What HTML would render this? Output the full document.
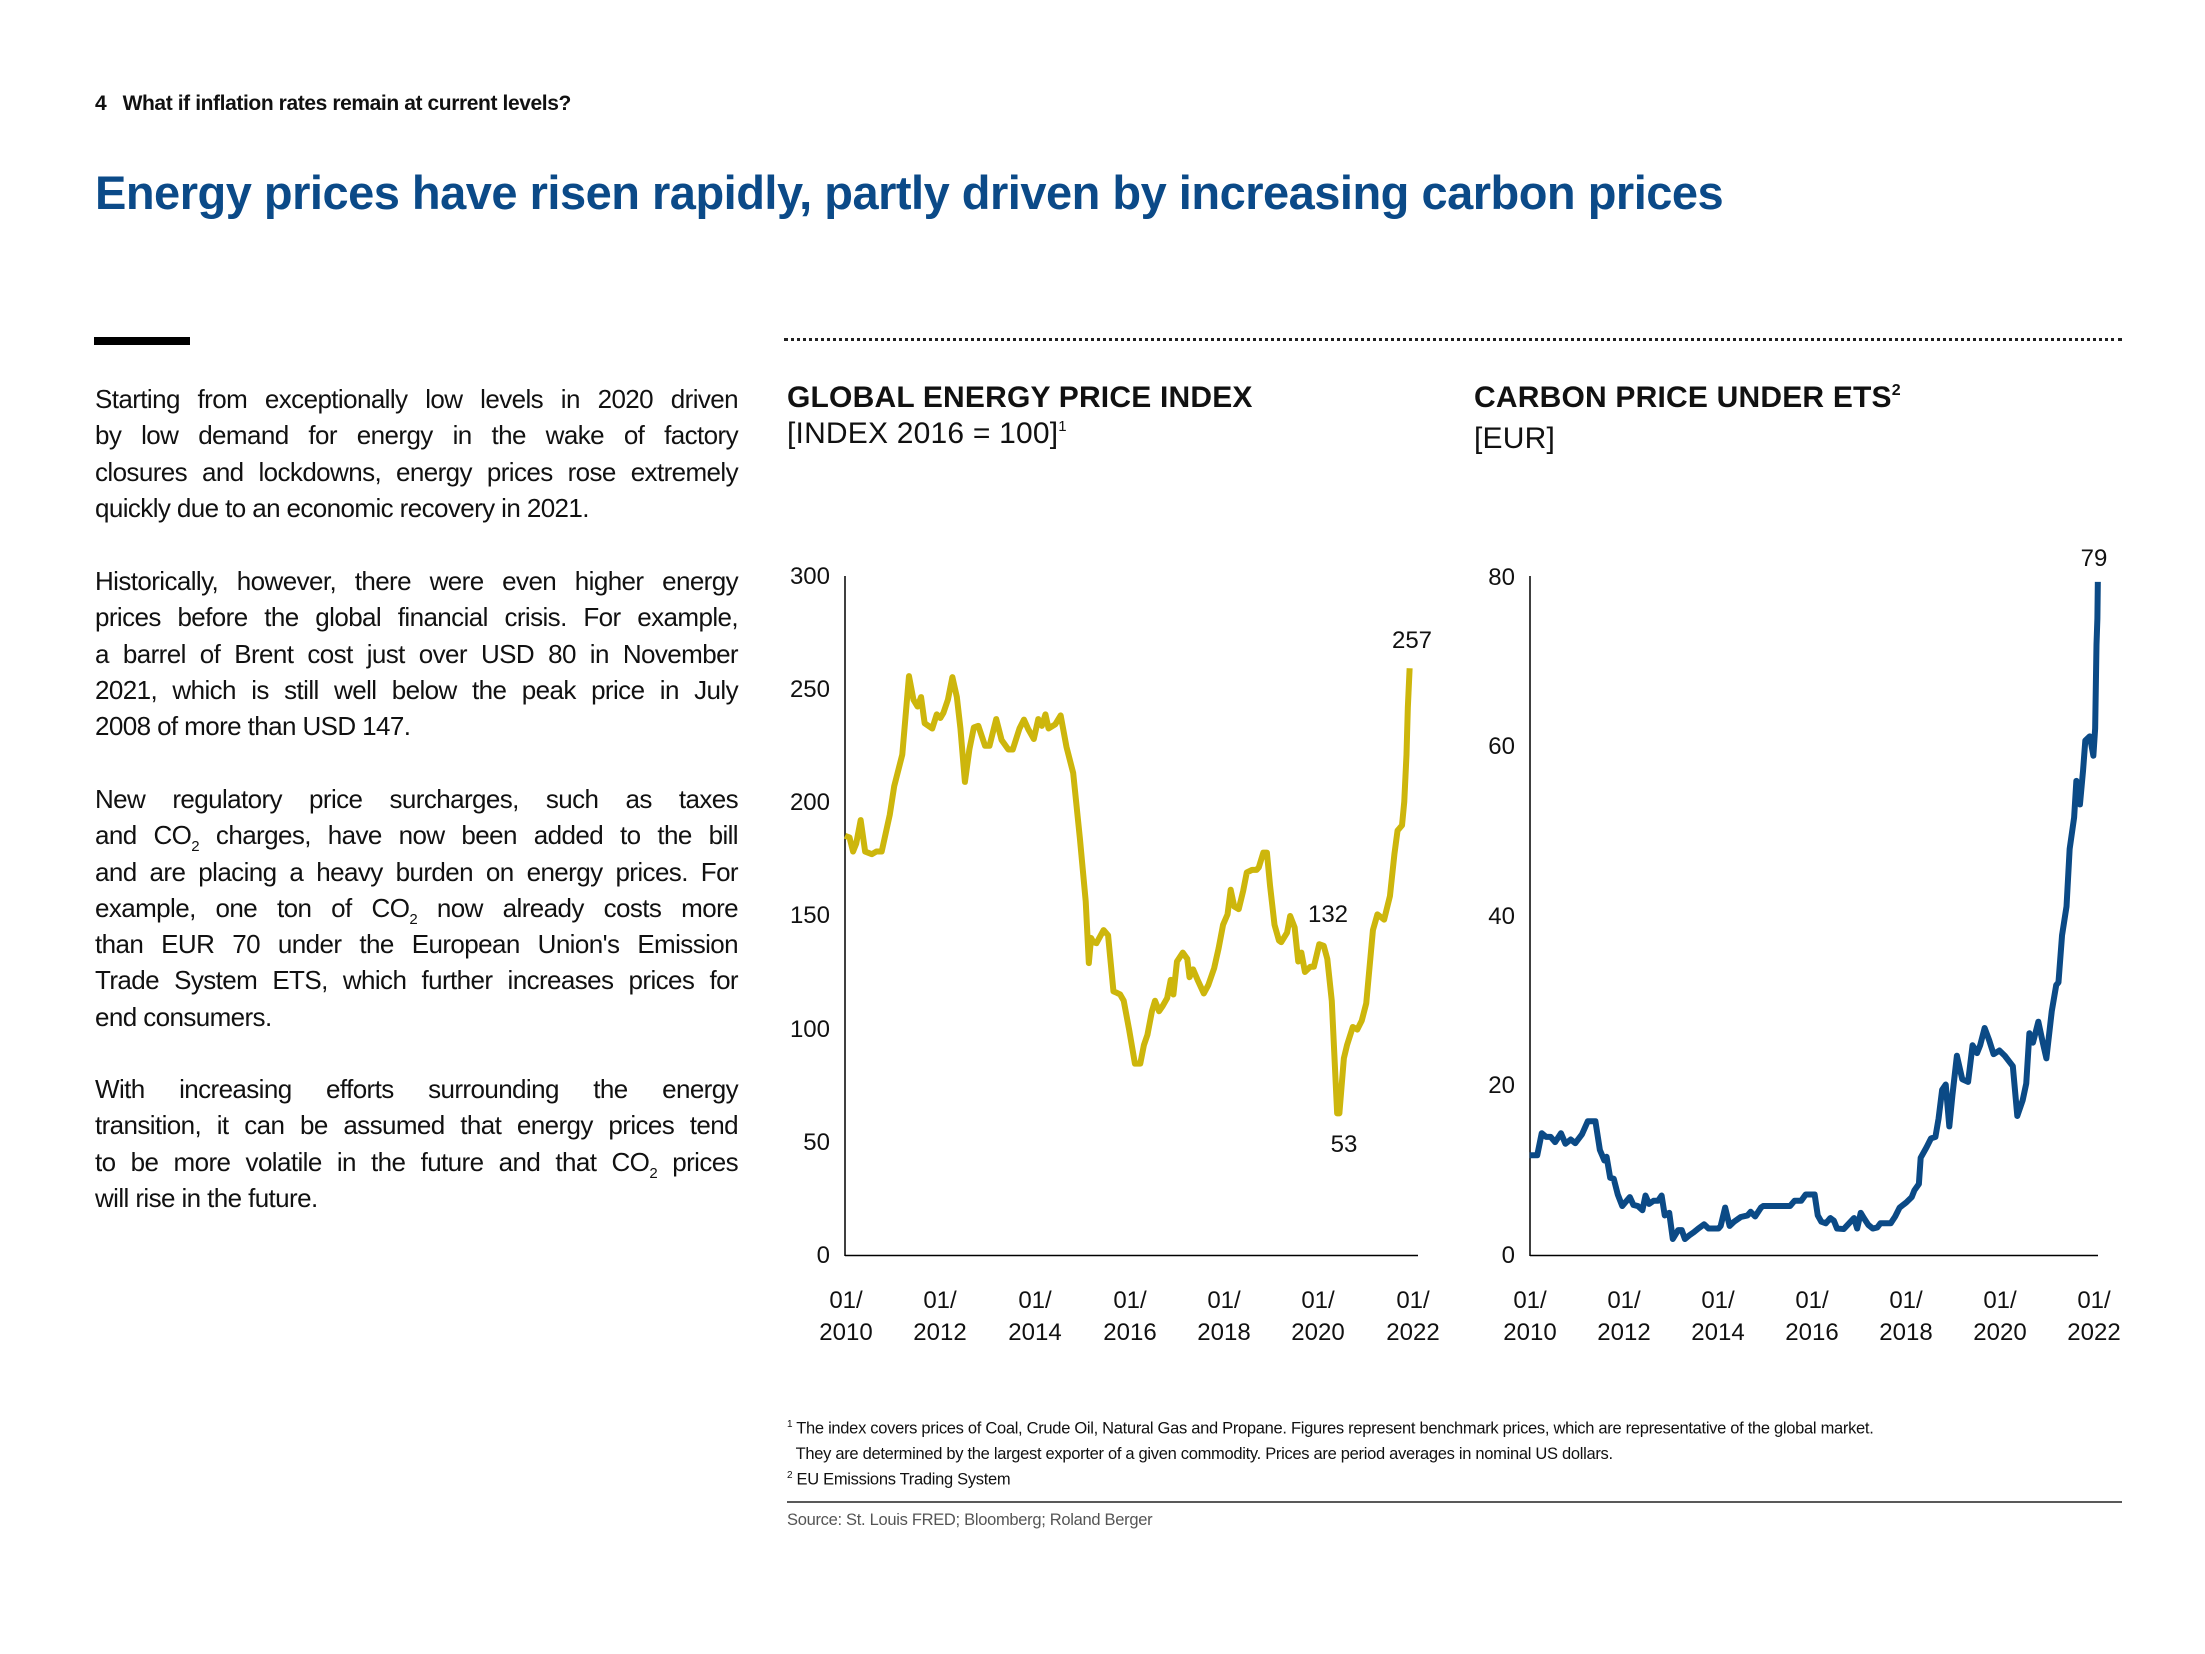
<!DOCTYPE html>
<html><head><meta charset="utf-8"><style>
html,body{margin:0;padding:0;background:#fff;}
body{width:2205px;height:1654px;position:relative;overflow:hidden;font-family:"Liberation Sans",sans-serif;color:#111;}
.abs{position:absolute;}
.hdr{left:95px;top:92px;font-size:21px;font-weight:bold;letter-spacing:-0.4px;}
.title{left:95px;top:165px;font-size:47px;font-weight:bold;color:#0b4a88;letter-spacing:-0.5px;}
.bar{left:94px;top:337px;width:96px;height:8px;background:#000;}
.dots{left:784px;top:338px;width:1338px;border-top:3px dotted #222;}
.body{left:95px;width:643px;font-size:26px;letter-spacing:-0.6px;}
.body div{height:36.3px;line-height:36.3px;white-space:nowrap;text-align:justify;text-align-last:justify;}
.body div.l{text-align-last:left;}
.s{font-size:15px;position:relative;top:7px;line-height:0;}
.ct{font-size:30px;line-height:36px;letter-spacing:0.2px;}
.fn{left:787px;font-size:16.5px;letter-spacing:-0.3px;white-space:nowrap;}
</style></head><body>
<div class="abs hdr">4&nbsp;&nbsp;&nbsp;What if inflation rates remain at current levels?</div>
<div class="abs title">Energy prices have risen rapidly, partly driven by increasing carbon prices</div>
<div class="abs bar"></div>
<div class="abs dots"></div>

<div class="abs body" style="top:381px">
<div>Starting from exceptionally low levels in 2020 driven</div>
<div>by low demand for energy in the wake of factory</div>
<div>closures and lockdowns, energy prices rose extremely</div>
<div class="l">quickly due to an economic recovery in 2021.</div>
</div>
<div class="abs body" style="top:563px">
<div>Historically, however, there were even higher energy</div>
<div>prices before the global financial crisis. For example,</div>
<div>a barrel of Brent cost just over USD 80 in November</div>
<div>2021, which is still well below the peak price in July</div>
<div class="l">2008 of more than USD 147.</div>
</div>
<div class="abs body" style="top:781px">
<div>New regulatory price surcharges, such as taxes</div>
<div>and CO<span class="s">2</span> charges, have now been added to the bill</div>
<div>and are placing a heavy burden on energy prices. For</div>
<div>example, one ton of CO<span class="s">2</span> now already costs more</div>
<div>than EUR 70 under the European Union's Emission</div>
<div>Trade System ETS, which further increases prices for</div>
<div class="l">end consumers.</div>
</div>
<div class="abs body" style="top:1071px">
<div>With increasing efforts surrounding the energy</div>
<div>transition, it can be assumed that energy prices tend</div>
<div>to be more volatile in the future and that CO<span class="s">2</span> prices</div>
<div class="l">will rise in the future.</div>
</div>

<div class="abs ct" style="left:787px;top:380px"><b>GLOBAL ENERGY PRICE INDEX</b><br>[INDEX 2016 = 100]<span style="font-size:15px;position:relative;top:-12px">1</span></div>
<div class="abs ct" style="left:1474px;top:380px"><b>CARBON PRICE UNDER ETS<span style="font-size:16px;position:relative;top:-12px">2</span></b><br>[EUR]</div>

<svg class="abs" style="left:0;top:0" width="2205" height="1654" font-family="Liberation Sans, sans-serif" font-size="24">
<line x1="845" y1="576" x2="845" y2="1256" stroke="#000" stroke-width="1.5"/>
<line x1="845" y1="1255.5" x2="1418" y2="1255.5" stroke="#000" stroke-width="1.5"/>
<g text-anchor="end" fill="#111">
<text x="830" y="1263">0</text><text x="830" y="1150">50</text><text x="830" y="1037">100</text><text x="830" y="923">150</text><text x="830" y="810">200</text><text x="830" y="697">250</text><text x="830" y="584">300</text>
</g>
<g text-anchor="middle" fill="#111">
<text x="846" y="1308">01/</text><text x="846" y="1340">2010</text>
<text x="940" y="1308">01/</text><text x="940" y="1340">2012</text>
<text x="1035" y="1308">01/</text><text x="1035" y="1340">2014</text>
<text x="1130" y="1308">01/</text><text x="1130" y="1340">2016</text>
<text x="1224" y="1308">01/</text><text x="1224" y="1340">2018</text>
<text x="1318" y="1308">01/</text><text x="1318" y="1340">2020</text>
<text x="1413" y="1308">01/</text><text x="1413" y="1340">2022</text>
<text x="1412" y="648">257</text><text x="1328" y="922">132</text><text x="1344" y="1152">53</text>
</g>
<g transform="translate(760,540) scale(0.4474,0.5236)">
<polyline fill="none" stroke="#cdb60c" stroke-width="6" vector-effect="non-scaling-stroke" stroke-linejoin="round" points="190,565 200,568 208,595 215,580 225,535 235,595 250,600 260,595 272,595 290,525 300,470 318,410 333,260 343,305 352,318 360,300 368,350 385,360 395,333 403,340 410,330 420,305 430,262 440,300 448,360 458,462 468,400 478,358 488,355 503,393 513,393 528,342 540,382 555,400 565,400 580,360 590,343 600,362 612,380 622,342 630,355 638,333 645,360 660,352 672,335 685,395 700,445 715,570 728,690 735,808 740,760 745,768 752,770 768,745 778,755 790,862 798,865 805,868 813,880 825,935 838,1000 850,1000 858,965 866,945 876,900 883,880 892,900 900,890 910,875 918,840 924,868 932,805 945,788 955,800 960,835 968,820 978,840 992,866 1002,850 1015,818 1025,780 1035,735 1045,715 1052,668 1060,700 1070,705 1080,670 1088,635 1100,630 1110,630 1115,625 1125,597 1133,597 1140,660 1150,735 1160,765 1165,768 1178,750 1185,718 1195,740 1203,805 1210,788 1218,825 1230,815 1238,815 1250,772 1260,775 1268,800 1278,880 1290,1095 1295,1095 1305,990 1312,965 1325,930 1335,935 1345,918 1355,885 1370,745 1380,715 1395,725 1408,680 1418,600 1425,555 1435,545 1440,500 1445,410 1448,320 1452,245"/>
</g>

<line x1="1530" y1="576" x2="1530" y2="1256" stroke="#000" stroke-width="1.5"/>
<line x1="1530" y1="1255.5" x2="2098" y2="1255.5" stroke="#000" stroke-width="1.5"/>
<g text-anchor="end" fill="#111">
<text x="1515" y="1263">0</text><text x="1515" y="1093">20</text><text x="1515" y="924">40</text><text x="1515" y="754">60</text><text x="1515" y="585">80</text>
</g>
<g text-anchor="middle" fill="#111">
<text x="1530" y="1308">01/</text><text x="1530" y="1340">2010</text>
<text x="1624" y="1308">01/</text><text x="1624" y="1340">2012</text>
<text x="1718" y="1308">01/</text><text x="1718" y="1340">2014</text>
<text x="1812" y="1308">01/</text><text x="1812" y="1340">2016</text>
<text x="1906" y="1308">01/</text><text x="1906" y="1340">2018</text>
<text x="2000" y="1308">01/</text><text x="2000" y="1340">2020</text>
<text x="2094" y="1308">01/</text><text x="2094" y="1340">2022</text>
<text x="2094" y="566">79</text>
</g>
<g transform="translate(1450,540) scale(0.4474,0.5236)">
<polyline fill="none" stroke="#0b4a86" stroke-width="6" vector-effect="non-scaling-stroke" stroke-linejoin="round" points="178,1175 195,1175 205,1133 215,1140 225,1140 235,1150 248,1133 258,1153 270,1145 280,1152 295,1135 308,1110 325,1110 335,1165 345,1185 350,1178 358,1218 366,1220 375,1250 385,1272 392,1265 402,1255 410,1270 420,1272 430,1280 437,1252 445,1268 455,1262 465,1262 473,1252 480,1290 490,1285 498,1335 510,1318 518,1318 525,1335 535,1328 545,1322 555,1315 568,1307 578,1315 600,1315 605,1310 615,1275 625,1310 635,1302 650,1293 665,1290 672,1283 682,1292 695,1275 700,1272 760,1272 770,1262 785,1262 795,1250 815,1250 822,1290 830,1302 840,1305 850,1295 858,1300 865,1315 880,1316 892,1305 903,1295 910,1315 918,1285 925,1295 935,1308 945,1315 955,1313 962,1305 985,1305 995,1292 1005,1275 1020,1265 1032,1255 1038,1242 1048,1230 1052,1180 1065,1160 1075,1143 1085,1140 1092,1105 1100,1050 1108,1040 1116,1120 1123,1060 1133,985 1145,1030 1158,1035 1168,965 1178,980 1185,965 1195,932 1205,955 1215,982 1228,975 1240,985 1258,1005 1268,1100 1280,1070 1288,1038 1295,942 1303,960 1315,920 1325,960 1333,990 1345,900 1355,850 1360,845 1368,755 1378,700 1385,590 1395,530 1400,460 1408,505 1415,440 1420,383 1430,375 1438,412 1442,360 1445,200 1447,150 1448,80"/>
</g>
<line x1="787" y1="1502" x2="2122" y2="1502" stroke="#222" stroke-width="1.5"/>
</svg>

<div class="abs fn" style="top:1419px"><sup style="font-size:10px">1</sup> The index covers prices of Coal, Crude Oil, Natural Gas and Propane. Figures represent benchmark prices, which are representative of the global market.</div>
<div class="abs fn" style="top:1445px">&nbsp;&nbsp;They are determined by the largest exporter of a given commodity. Prices are period averages in nominal US dollars.</div>
<div class="abs fn" style="top:1470px"><sup style="font-size:10px">2</sup> EU Emissions Trading System</div>
<div class="abs fn" style="top:1511px;color:#555">Source: St. Louis FRED; Bloomberg; Roland Berger</div>
</body></html>
